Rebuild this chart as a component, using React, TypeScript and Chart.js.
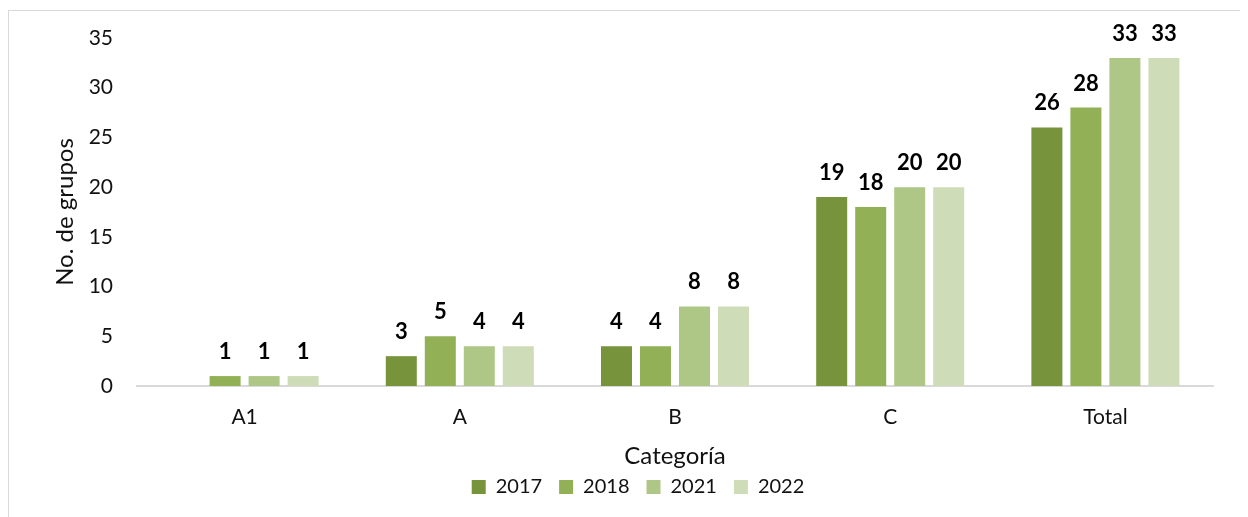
import React, { useEffect, useRef } from "react";
import { Chart, registerables } from "chart.js";

Chart.register(...registerables);

const categories = ["A1", "A", "B", "C", "Total"];
const seriesLabels = ["2017", "2018", "2021", "2022"];
const values2017 = [0, 3, 4, 19, 26];
const values2018 = [1, 5, 4, 18, 28];
const values2021 = [1, 4, 8, 20, 33];
const values2022 = [1, 4, 8, 20, 33];
const seriesColors = ["#77933C", "#92B156", "#AEC787", "#CEDDB7"];
const yTitle = "No. de grupos";
const xTitle = "Categoría";

const FONT = "Lato, 'Noto Sans', sans-serif";

const dataLabelPlugin = {
  id: "dataLabels",
  beforeLayout(chart: any) {
    const legend = chart.legend;
    if (legend && !legend.__patched) {
      const orig = legend.fit;
      legend.fit = function () {
        orig.call(this);
        this.height = 45;
      };
      legend.__patched = true;
    }
  },
  afterLayout(chart: any) {
    const legend = chart.legend;
    if (legend) {
      legend.left += 27;
      legend.right += 27;
    }
  },
  afterDatasetsDraw(chart: any) {
    const ctx = chart.ctx;
    ctx.save();
    ctx.font = `bold 22px ${FONT}`;
    ctx.fillStyle = "#000";
    ctx.textAlign = "center";
    ctx.textBaseline = "alphabetic";
    chart.data.datasets.forEach((ds: any, i: number) => {
      const meta = chart.getDatasetMeta(i);
      meta.data.forEach((el: any, j: number) => {
        const v = ds.data[j];
        if (!v) return;
        ctx.fillText(String(v), el.x, el.y - 17);
      });
    });
    ctx.restore();
  },
};

export default function App() {
  const ref = useRef<HTMLCanvasElement>(null);
  useEffect(() => {
    document.body.style.overflow = "hidden";
    const all = [values2017, values2018, values2021, values2022];
    const chart = new Chart(ref.current!, {
      type: "bar",
      data: {
        labels: categories,
        datasets: seriesLabels.map((l, i) => ({
          label: l,
          data: all[i],
          backgroundColor: seriesColors[i],
          borderWidth: 0,
          categoryPercentage: 0.725,
          barPercentage: 0.795,
        })),
      },
      options: {
        animation: false,
        responsive: false,
        devicePixelRatio: 1,
        layout: { padding: { top: 27, right: 35, left: 0, bottom: 13 } },
        plugins: {
          tooltip: { enabled: false },
          legend: {
            position: "bottom",
            labels: {
              boxWidth: 14,
              boxHeight: 14,
              padding: 17,
              color: "#111",
              font: { family: FONT, size: 20 },
            },
          },
        },
        scales: {
          x: {
            grid: { display: false, drawTicks: false },
            border: { display: true, color: "#d9d9d9", width: 2 },
            ticks: { color: "#111", padding: 19, font: { family: FONT, size: 21 } },
            title: {
              display: true,
              text: xTitle,
              color: "#111",
              font: { family: FONT, size: 24 },
              padding: { top: 0, bottom: -10.4 },
            },
            afterFit: (s: any) => {
              s.height = 74;
            },
          },
          y: {
            min: 0,
            max: 35,
            grid: { display: false, drawTicks: false },
            border: { display: false },
            ticks: { stepSize: 5, color: "#111", padding: 24, font: { family: FONT, size: 21 } },
            title: {
              display: true,
              text: yTitle,
              color: "#111",
              font: { family: FONT, size: 24 },
              padding: { top: 42, bottom: 0 },
            },
            afterFit: (s: any) => {
              s.width = 128;
              s.paddingTop = 0;
              s.paddingBottom = 0;
            },
          },
        },
      },
      plugins: [dataLabelPlugin],
    });
    return () => chart.destroy();
  }, []);
  return (
    <div
      style={{
        position: "relative",
        marginTop: 2,
        width: 1300,
        height: 520,
        borderLeft: "1px solid #d9d9d9",
        borderTop: "1px solid #d9d9d9",
      }}
    >
      <canvas ref={ref} width={1239} height={507} style={{ display: "block" }} />
    </div>
  );
}
